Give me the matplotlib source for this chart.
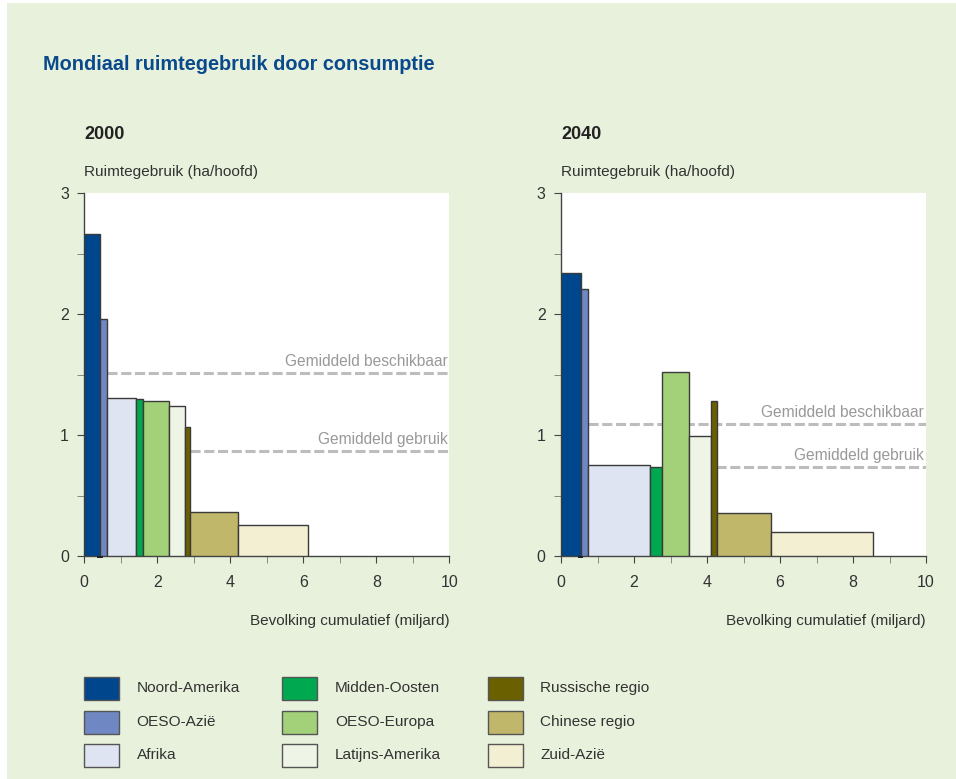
import matplotlib
matplotlib.use("Agg")
import matplotlib.pyplot as plt
from matplotlib.patches import Rectangle
from matplotlib.ticker import MultipleLocator
import numpy as np

plt.rcParams['font.family'] = ['Liberation Sans', 'DejaVu Sans']

# regions, in the order they are stacked along the x-axis
regions = ["Noord-Amerika", "OESO-Azië", "Afrika", "Midden-Oosten", "OESO-Europa",
           "Latijns-Amerika", "Russische regio", "Chinese regio", "Zuid-Azië"]
colors = ["#00468c", "#6f88c4", "#dfe4f2", "#00a84f", "#a3d17a",
          "#eef5e6", "#6b6000", "#c0b76a", "#f3efd2"]

# population (miljard) -> bar widths, land use (ha/hoofd) -> bar heights
pop_2000 = [0.42, 0.20, 0.81, 0.18, 0.72, 0.43, 0.14, 1.32, 1.91]
use_2000 = [2.66, 1.96, 1.31, 1.30, 1.28, 1.24, 1.07, 0.36, 0.26]
pop_2040 = [0.55, 0.20, 1.69, 0.32, 0.75, 0.61, 0.15, 1.48, 2.79]
use_2040 = [2.34, 2.21, 0.755, 0.74, 1.52, 0.99, 1.28, 0.355, 0.20]

# average lines: (value, start x)
avail_2000 = (1.51, 0.62)
mean_2000 = (0.87, 2.90)
avail_2040 = (1.09, 0.75)
mean_2040 = (0.735, 4.26)

# tiny dark stub just under the axis
stub_2000 = (0.36, 0.14)
stub_2040 = (0.47, 0.14)

bg = "#e8f1dc"
fig = plt.figure(figsize=(9.56, 7.79), dpi=100)
fig.patch.set_facecolor("white")
fig.patches.append(Rectangle((7 / 956, 0), 1, 1 - 3 / 779, transform=fig.transFigure,
                             facecolor=bg, edgecolor="none", zorder=-10))

fig.text(43 / 956, 1 - 65 / 779, "Mondiaal ruimtegebruik door consumptie",
         fontsize=14.3, fontweight="bold", color="#0a4a8c", va="center")


def panel(left, year, pops, uses, avail, mean, stub):
    ax = fig.add_axes([left, 0.2863, 0.3818, 0.4656])
    ax.set_facecolor("white")
    x0 = np.concatenate([[0], np.cumsum(pops)[:-1]])
    ax.bar(x0, uses, width=pops, align="edge", color=colors,
           edgecolor="#3a3a3a", linewidth=1.0, zorder=3)
    ax.bar(stub[0], -0.018, width=stub[1], align="edge", color="#222222",
           clip_on=False, zorder=4)
    for val, start, lab in [(avail[0], avail[1], "Gemiddeld beschikbaar"),
                            (mean[0], mean[1], "Gemiddeld gebruik")]:
        ax.plot([start, 10], [val, val], color="#bdbdbd", lw=2.2,
                dashes=(3.3, 1.2), zorder=2)
        ax.text(9.95, val + 0.035, lab, ha="right", va="bottom",
                fontsize=11.2, color="#999999", zorder=2)
    ax.set_xlim(0, 10)
    ax.set_ylim(0, 3)
    ax.xaxis.set_major_locator(MultipleLocator(2))
    ax.xaxis.set_minor_locator(MultipleLocator(1))
    ax.yaxis.set_major_locator(MultipleLocator(1))
    ax.yaxis.set_minor_locator(MultipleLocator(0.5))
    for s in ["top", "right"]:
        ax.spines[s].set_visible(False)
    for s in ["left", "bottom"]:
        ax.spines[s].set_color("#444444")
        ax.spines[s].set_linewidth(1.0)
    ax.tick_params(which="major", length=5, color="#444444", labelsize=11.5,
                   labelcolor="#333333", pad=9)
    ax.tick_params(which="minor", length=5, color="#777777")
    ax.tick_params(axis="y", which="major", pad=6)
    ax.set_xlabel("Bevolking cumulatief (miljard)", fontsize=11, color="#333333",
                  loc="right", labelpad=17)
    ax.text(0, 3.49, str(year), fontsize=13, fontweight="bold",
            color="#222222", va="center", ha="left")
    ax.text(0, 3.18, "Ruimtegebruik (ha/hoofd)", fontsize=11.1, color="#333333",
            va="center", ha="left")
    return ax


panel(84.3 / 956, 2000, pop_2000, use_2000, avail_2000, mean_2000, stub_2000)
panel(561 / 956, 2040, pop_2040, use_2040, avail_2040, mean_2040, stub_2040)

# legend: 3 columns x 3 rows
col_x = [84, 282.3, 487.7]
row_y = [688, 722, 755.3]
for i, (name, c) in enumerate(zip(regions, colors)):
    px = col_x[i // 3]
    py = row_y[i % 3]
    fig.patches.append(Rectangle((px / 956, 1 - (py + 11.5) / 779), 35 / 956, 23 / 779,
                                 transform=fig.transFigure, facecolor=c,
                                 edgecolor="#555555", linewidth=1.0))
    fig.text((px + 52.5) / 956, 1 - py / 779, name, fontsize=11.1, color="#333333",
             va="center", ha="left")

fig.savefig("out.png", dpi=100, facecolor=fig.get_facecolor())
